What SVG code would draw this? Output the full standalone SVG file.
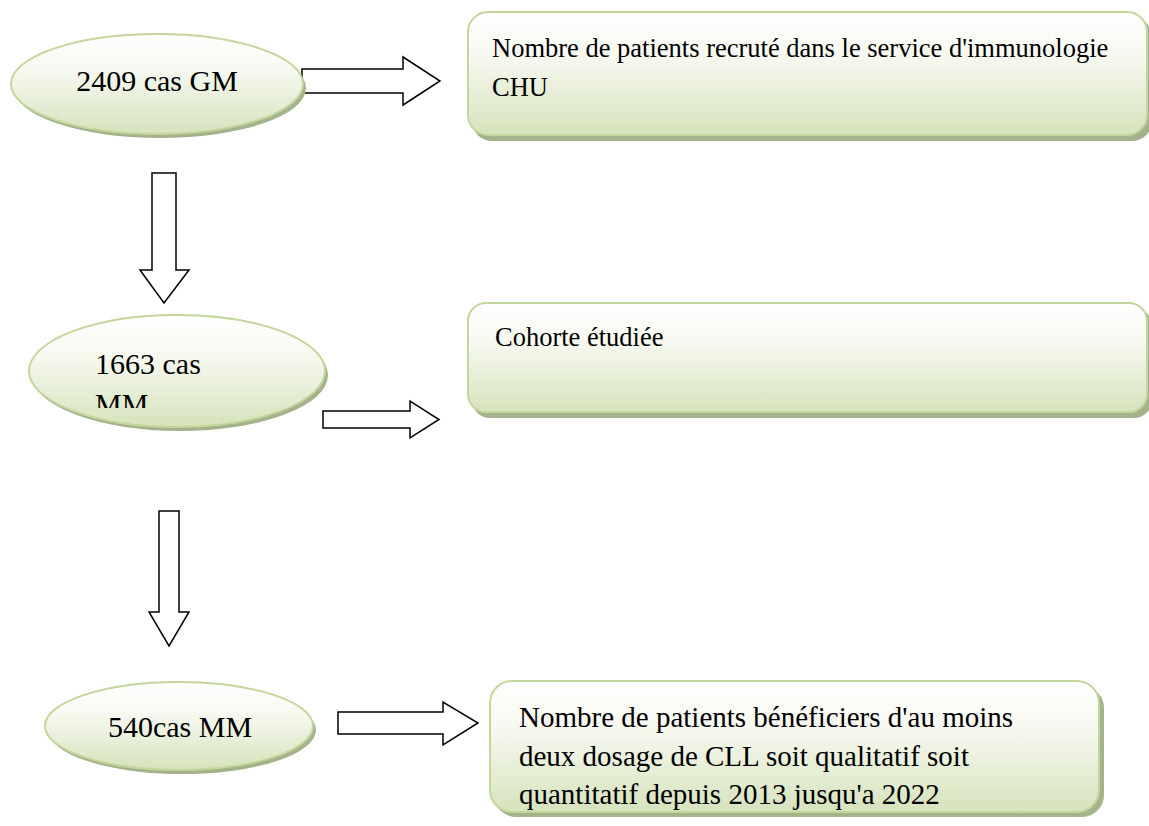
<svg xmlns="http://www.w3.org/2000/svg" width="1149" height="826" viewBox="0 0 1149 826">
<defs>
<linearGradient id="gfill" x1="0" y1="0" x2="0" y2="1">
<stop offset="0" stop-color="#ffffff"/>
<stop offset="0.35" stop-color="#f7f9f1"/>
<stop offset="1" stop-color="#d6e3bc"/>
</linearGradient>
<clipPath id="clip2"><rect x="60" y="330" width="260" height="78"/></clipPath>
</defs>
<style>
.shape{fill:url(#gfill);stroke:#c3d69b;stroke-width:2}
.shadow{fill:#a4b38c}
.arrow{fill:#ffffff;stroke:#000000;stroke-width:1.5;stroke-linejoin:miter}
.t{font-family:'Liberation Serif','Times New Roman',Tinos,'DejaVu Serif','Noto Serif',serif;fill:#000000}
.big{font-size:30px}
.mid{font-size:26.5px}
.lg{font-size:29px}
</style>
<rect width="1149" height="826" fill="#ffffff"/>
<g id="connectors">
<path class="arrow" d="M302,69 L403,69 L403,57 L440,81 L403,105 L403,93 L302,93 Z"/>
<path class="arrow" d="M323,411 L410,411 L410,401 L439,419.5 L410,438 L410,428 L323,428 Z"/>
<path class="arrow" d="M338,712 L443,712 L443,702 L478,723 L443,745 L443,734 L338,734 Z"/>
<path class="arrow" d="M152,173 L176,173 L176,270 L189,270 L164,303 L140,270 L152,270 Z"/>
<path class="arrow" d="M159,511 L179,511 L179,612 L189,612 L169,646 L149,612 L159,612 Z"/>
</g>
<g id="node-2409">
<ellipse class="shadow" cx="160" cy="88" rx="146" ry="50"/>
<ellipse class="shape" cx="157" cy="84" rx="146" ry="50"/>
<text class="t big" x="157" y="91" text-anchor="middle">2409 cas GM</text>
</g>
<g id="node-1663">
<ellipse class="shadow" cx="180" cy="375" rx="148" ry="56"/>
<ellipse class="shape" cx="177" cy="371" rx="148" ry="56"/>
<g clip-path="url(#clip2)">
<text class="t big" x="95" y="374">1663 cas</text>
<text class="t big" x="95" y="414">MM</text>
</g>
</g>
<g id="node-540">
<ellipse class="shadow" cx="182" cy="730" rx="134" ry="44"/>
<ellipse class="shape" cx="179" cy="726" rx="134" ry="44"/>
<text class="t big" x="180" y="737" text-anchor="middle">540cas MM</text>
</g>
<g id="box-recrutes">
<rect class="shadow" x="472" y="17" width="680" height="124" rx="20"/>
<rect class="shape" x="468" y="12" width="679" height="123" rx="20"/>
<text class="t mid" x="492" y="57">Nombre de patients recruté dans le service d'immunologie</text>
<text class="t mid" x="492" y="96">CHU</text>
</g>
<g id="box-cohorte">
<rect class="shadow" x="472" y="308" width="680" height="110" rx="18"/>
<rect class="shape" x="468" y="303" width="679" height="109" rx="18"/>
<text class="t mid" x="495" y="346">Cohorte étudiée</text>
</g>
<g id="box-cll">
<rect class="shadow" x="494" y="686" width="610" height="131" rx="22"/>
<rect class="shape" x="490" y="681" width="609" height="131" rx="22"/>
<text class="t lg" x="519" y="727">Nombre de patients bénéficiers d'au moins</text>
<text class="t lg" x="519" y="766">deux dosage de CLL soit qualitatif soit</text>
<text class="t lg" x="519" y="804">quantitatif depuis 2013 jusqu'a 2022</text>
</g>
</svg>
